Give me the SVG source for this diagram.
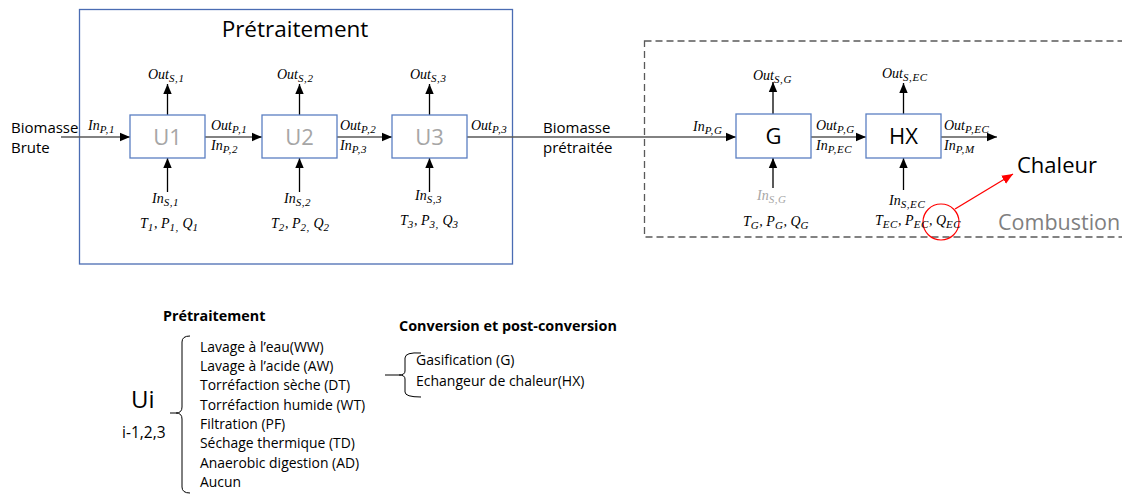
<svg xmlns="http://www.w3.org/2000/svg" width="1122" height="495" viewBox="0 0 1122 495">
<defs>
<marker id="ah" markerUnits="userSpaceOnUse" markerWidth="10" markerHeight="10" viewBox="0 0 10 10" refX="10" refY="5" orient="auto">
<path d="M0,0.8 L10,5 L0,9.2 Z" fill="#000"/>
</marker>
<marker id="ahr" markerUnits="userSpaceOnUse" markerWidth="11" markerHeight="11" viewBox="0 0 10 10" refX="10" refY="5" orient="auto">
<path d="M0,0.8 L10,5 L0,9.2 Z" fill="#f00"/>
</marker>
<style>
.box{fill:#fff;stroke:#5b7fc2;stroke-width:1.3}
.grp{fill:none;stroke:#4a6cb3;stroke-width:1.3}
.dash{fill:none;stroke:#595959;stroke-width:1.3;stroke-dasharray:7 4}
.ln{stroke:#595959;stroke-width:1.3;fill:none;marker-end:url(#ah)}
.vl{stroke:#000;stroke-width:1.3;fill:none;marker-end:url(#ah)}
.t{font-family:"Open Sans","Liberation Sans",sans-serif;fill:#000}
.ul{font-family:"Open Sans","Liberation Sans",sans-serif;font-size:22px;text-anchor:middle}
.m{font-family:"Liberation Serif",serif;font-style:italic;font-size:14px;fill:#000}
.s{font-size:11px;letter-spacing:0.6px}
.br{fill:none;stroke:#000;stroke-width:1}
</style>
</defs>

<g id="pretraitement-group">
<rect class="grp" x="79.5" y="9.5" width="433" height="254.5"/>
<text class="t" x="295" y="37" font-size="22.5" text-anchor="middle">Prétraitement</text>
</g>
<g id="combustion-group">
<rect class="dash" x="644.5" y="41" width="500" height="196"/>
<text class="t" x="998" y="230" font-size="21.5" style="fill:#7f7f7f">Combustion</text>
</g>

<g id="connectors">
<line class="ln" x1="61" y1="137" x2="130" y2="137"/>
<line class="ln" x1="205" y1="137" x2="262" y2="137"/>
<line class="ln" x1="337" y1="137" x2="392" y2="137"/>
<line class="ln" x1="467" y1="137" x2="736" y2="137"/>
<line class="ln" x1="811" y1="137" x2="866" y2="137"/>
<line class="ln" x1="941" y1="137" x2="997" y2="137"/>
<line class="vl" x1="167.5" y1="115" x2="167.5" y2="84"/>
<line class="vl" x1="299.5" y1="115" x2="299.5" y2="84"/>
<line class="vl" x1="429.5" y1="115" x2="429.5" y2="84"/>
<line class="vl" x1="773" y1="114" x2="773" y2="82"/>
<line class="vl" x1="903.5" y1="114" x2="903.5" y2="83"/>
<line class="vl" x1="167.5" y1="192" x2="167.5" y2="158"/>
<line class="vl" x1="299.5" y1="192" x2="299.5" y2="158"/>
<line class="vl" x1="429.5" y1="192" x2="429.5" y2="158"/>
<line class="vl" x1="773" y1="188" x2="773" y2="158"/>
<line class="vl" x1="903.5" y1="190" x2="903.5" y2="158"/>
<line x1="955" y1="209" x2="1013" y2="174" stroke="#f00" stroke-width="1.3" marker-end="url(#ahr)"/>
</g>

<g id="U1">
<rect class="box" x="130" y="115" width="75" height="43"/>
<text class="ul" x="167.5" y="145" fill="#a6a6a6">U1</text>
</g>
<g id="U2">
<rect class="box" x="262" y="115" width="75" height="43"/>
<text class="ul" x="299.5" y="145" fill="#a6a6a6">U2</text>
</g>
<g id="U3">
<rect class="box" x="392" y="115" width="75" height="43"/>
<text class="ul" x="429.5" y="145" fill="#a6a6a6">U3</text>
</g>
<g id="G">
<rect class="box" x="736" y="114" width="75" height="44"/>
<text class="ul" x="773.5" y="144" fill="#000">G</text>
</g>
<g id="HX">
<rect class="box" x="866" y="114" width="75" height="44"/>
<text class="ul" x="903.5" y="144" fill="#000">HX</text>
</g>

<g id="labels-inputs">
<text class="t" x="11" y="133" font-size="15">Biomasse</text>
<text class="t" x="11" y="153" font-size="15">Brute</text>
<text class="t" x="543" y="133" font-size="15">Biomasse</text>
<text class="t" x="543" y="153" font-size="15">prétraitée</text>
<text class="t" x="1017" y="173" font-size="22">Chaleur</text>
<circle cx="941" cy="222" r="18" fill="none" stroke="#f00" stroke-width="1.2"/>
</g>

<g id="math-labels">
<text class="m" x="88" y="130">In<tspan class="s" dy="3">P,1</tspan></text>
<text class="m" x="211" y="130">Out<tspan class="s" dy="3">P,1</tspan></text>
<text class="m" x="211" y="150">In<tspan class="s" dy="3">P,2</tspan></text>
<text class="m" x="340" y="130">Out<tspan class="s" dy="3">P,2</tspan></text>
<text class="m" x="340" y="150">In<tspan class="s" dy="3">P,3</tspan></text>
<text class="m" x="471" y="130">Out<tspan class="s" dy="3">P,3</tspan></text>
<text class="m" x="693" y="131">In<tspan class="s" dy="3">P,G</tspan></text>
<text class="m" x="816" y="130">Out<tspan class="s" dy="3">P,G</tspan></text>
<text class="m" x="816" y="150">In<tspan class="s" dy="3">P,EC</tspan></text>
<text class="m" x="944" y="130">Out<tspan class="s" dy="3">P,EC</tspan></text>
<text class="m" x="944" y="150">In<tspan class="s" dy="3">P,M</tspan></text>

<text class="m" x="148" y="79">Out<tspan class="s" dy="3">S,1</tspan></text>
<text class="m" x="277" y="79">Out<tspan class="s" dy="3">S,2</tspan></text>
<text class="m" x="410" y="79">Out<tspan class="s" dy="3">S,3</tspan></text>
<text class="m" x="753" y="80">Out<tspan class="s" dy="3">S,G</tspan></text>
<text class="m" x="882" y="78">Out<tspan class="s" dy="3">S,EC</tspan></text>

<text class="m" x="152" y="203">In<tspan class="s" dy="3">S,1</tspan></text>
<text class="m" x="284" y="203">In<tspan class="s" dy="3">S,2</tspan></text>
<text class="m" x="415" y="200">In<tspan class="s" dy="3">S,3</tspan></text>
<text class="m" x="757" y="200" style="fill:#a6a6a6">In<tspan class="s" dy="3">S,G</tspan></text>
<text class="m" x="889" y="205">In<tspan class="s" dy="3">S,EC</tspan></text>

<text class="m" x="140" y="228">T<tspan class="s" dy="3">1</tspan><tspan dy="-3">, P</tspan><tspan class="s" dy="3">1,</tspan><tspan dy="-3"> Q</tspan><tspan class="s" dy="3">1</tspan></text>
<text class="m" x="271" y="228">T<tspan class="s" dy="3">2</tspan><tspan dy="-3">, P</tspan><tspan class="s" dy="3">2,</tspan><tspan dy="-3"> Q</tspan><tspan class="s" dy="3">2</tspan></text>
<text class="m" x="400" y="225">T<tspan class="s" dy="3">3</tspan><tspan dy="-3">, P</tspan><tspan class="s" dy="3">3,</tspan><tspan dy="-3"> Q</tspan><tspan class="s" dy="3">3</tspan></text>
<text class="m" x="743" y="226">T<tspan class="s" dy="3">G</tspan><tspan dy="-3">, P</tspan><tspan class="s" dy="3">G</tspan><tspan dy="-3">, Q</tspan><tspan class="s" dy="3">G</tspan></text>
<text class="m" x="875" y="225">T<tspan class="s" dy="3">EC</tspan><tspan dy="-3">, P</tspan><tspan class="s" dy="3">EC</tspan><tspan dy="-3">, Q</tspan><tspan class="s" dy="3">EC</tspan></text>
</g>

<g id="legend-pretraitement">
<text class="t" x="163" y="321" font-size="14.3" font-weight="bold">Prétraitement</text>
<text class="t" x="131" y="408" font-size="24">Ui</text>
<text class="t" x="122" y="438" font-size="15.5">i-1,2,3</text>
<path class="br" d="M190,336 Q182,336 182,342 L182,407 Q182,413 176,413 L170,413 M176,413 Q182,413 182,419 L182,487 Q182,493 190,493"/>
<text class="t" font-size="13.9">
<tspan x="200" y="352">Lavage à l’eau(WW)</tspan>
<tspan x="200" y="371">Lavage à l’acide (AW)</tspan>
<tspan x="200" y="390">Torréfaction sèche (DT)</tspan>
<tspan x="200" y="410">Torréfaction humide (WT)</tspan>
<tspan x="200" y="429">Filtration (PF)</tspan>
<tspan x="200" y="448">Séchage thermique (TD)</tspan>
<tspan x="200" y="468">Anaerobic digestion (AD)</tspan>
<tspan x="200" y="487">Aucun</tspan>
</text>
</g>

<g id="legend-conversion">
<text class="t" x="399" y="331" font-size="14.4" font-weight="bold">Conversion et post-conversion</text>
<path class="br" d="M421,353 Q405,352 405,358 L405,371 Q405,375 399,375 L385,375 M399,375 Q405,375 405,379 L405,392 Q405,397 421,397"/>
<text class="t" font-size="14">
<tspan x="416" y="365">Gasification (G)</tspan>
<tspan x="416" y="386">Echangeur de chaleur(HX)</tspan>
</text>
</g>
</svg>
